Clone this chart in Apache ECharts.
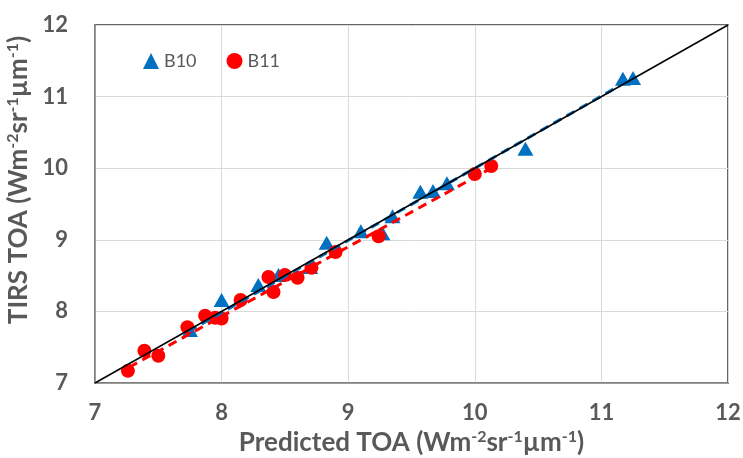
<!DOCTYPE html>
<html>
<head>
<meta charset="utf-8">
<script src="https://cdn.jsdelivr.net/npm/echarts@6/dist/echarts.min.js"></script>
<style>
  html, body { margin: 0; padding: 0; background: #fff; }
  #main { width: 743px; height: 458px; }
</style>
</head>
<body>
<div id="main"></div>
<script>
var myChart = echarts.init(document.getElementById('main'));

// B10 points: [predicted, TIRS]
var b10Pred = [7.75, 8.00, 8.29, 8.45, 8.70, 8.83, 9.10, 9.27, 9.35, 9.57, 9.67, 9.78, 10.40, 11.17, 11.25];
var b10Tirs = [7.74, 8.16, 8.37, 8.51, 8.62, 8.96, 9.12, 9.09, 9.33, 9.67, 9.68, 9.79, 10.27, 11.25, 11.26];
// B11 points
var b11Pred = [7.26, 7.39, 7.50, 7.73, 7.87, 7.95, 8.00, 8.15, 8.37, 8.41, 8.50, 8.60, 8.71, 8.90, 9.24, 10.00, 10.13];
var b11Tirs = [7.17, 7.45, 7.38, 7.78, 7.94, 7.91, 7.90, 8.16, 8.48, 8.27, 8.51, 8.47, 8.61, 8.83, 9.05, 9.92, 10.03];
// trend line end points
var b10Trend = [[7.74, 7.72], [11.22, 11.23]];
var b11Trend = [[7.27, 7.22], [10.13, 10.00]];
var oneToOne = [[7, 7], [12, 12]];

function pairs(xs, ys) {
    return xs.map(function (x, i) { return [x, ys[i]]; });
}

var grey = '#595959';
var font = 'Lato, "Open Sans", sans-serif';

var unitRich = {
    a: { fontSize: 26, fontWeight: 'bold', color: grey, fontFamily: font },
    s: { fontSize: 16, fontWeight: 'bold', color: grey, fontFamily: font, padding: [0, 0, 12, 0] }
};

var option = {
    backgroundColor: '#fff',
    animation: false,
    grid: {
        left: 95, right: 15, top: 25, bottom: 75,
        outerBoundsMode: 'none',
        show: true, borderColor: '#333', borderWidth: 1.5
    },
    legend: {
        left: 138, top: 47,
        itemWidth: 16, itemHeight: 16, itemGap: 30, itemStyle: { opacity: 1 },
        textStyle: { color: grey, fontSize: 18, fontFamily: font },
        data: [
            { name: 'B10', icon: 'triangle' },
            { name: 'B11', icon: 'circle' }
        ]
    },
    xAxis: {
        type: 'value', min: 7, max: 12, interval: 1,
        name: '{a|Predicted TOA (Wm}{s|-2}{a|sr}{s|-1}{a|µm}{s|-1}{a|)}',
        nameLocation: 'middle', nameGap: 42,
        nameTextStyle: { rich: unitRich },
        axisLine: { show: true, lineStyle: { color: '#888', width: 1.5 } },
        axisTick: { show: false },
        axisLabel: { color: grey, fontSize: 22, fontWeight: 'bold', fontFamily: font, margin: 19 },
        splitLine: { lineStyle: { color: '#d9d9d9', width: 1 } }
    },
    yAxis: {
        type: 'value', min: 7, max: 12, interval: 1,
        name: '{a|TIRS TOA (Wm}{s|-2}{a|sr}{s|-1}{a|µm}{s|-1}{a|)}',
        nameLocation: 'middle', nameGap: 54, nameRotate: 90,
        nameTextStyle: { rich: unitRich, padding: [0, 0, 0, 48] },
        axisLine: { show: true, lineStyle: { color: '#888', width: 1.5 } },
        axisTick: { show: false },
        axisLabel: { color: grey, fontSize: 22, fontWeight: 'bold', fontFamily: font, margin: 27 },
        splitLine: { lineStyle: { color: '#d9d9d9', width: 1 } }
    },
    series: [
        {
            name: 'B10', type: 'scatter', symbol: 'triangle', symbolSize: [16, 14],
            itemStyle: { color: '#0070C0', opacity: 1 },
            data: pairs(b10Pred, b10Tirs), z: 2
        },
        {
            name: 'B11', type: 'scatter', symbol: 'circle', symbolSize: 14,
            itemStyle: { color: '#FF0000', opacity: 1 },
            data: pairs(b11Pred, b11Tirs), z: 3
        },
        {
            name: 'B10 trend', type: 'line', symbol: 'none', silent: true,
            lineStyle: { color: '#0070C0', width: 3, type: [9, 6] },
            data: b10Trend, z: 4
        },
        {
            name: 'B11 trend', type: 'line', symbol: 'none', silent: true,
            lineStyle: { color: '#FF0000', width: 3, type: [9, 6] },
            data: b11Trend, z: 5
        },
        {
            name: '1:1', type: 'line', symbol: 'none', silent: true,
            lineStyle: { color: '#000', width: 1.5 },
            data: oneToOne, z: 6
        }
    ]
};

myChart.setOption(option);
</script>
</body>
</html>
